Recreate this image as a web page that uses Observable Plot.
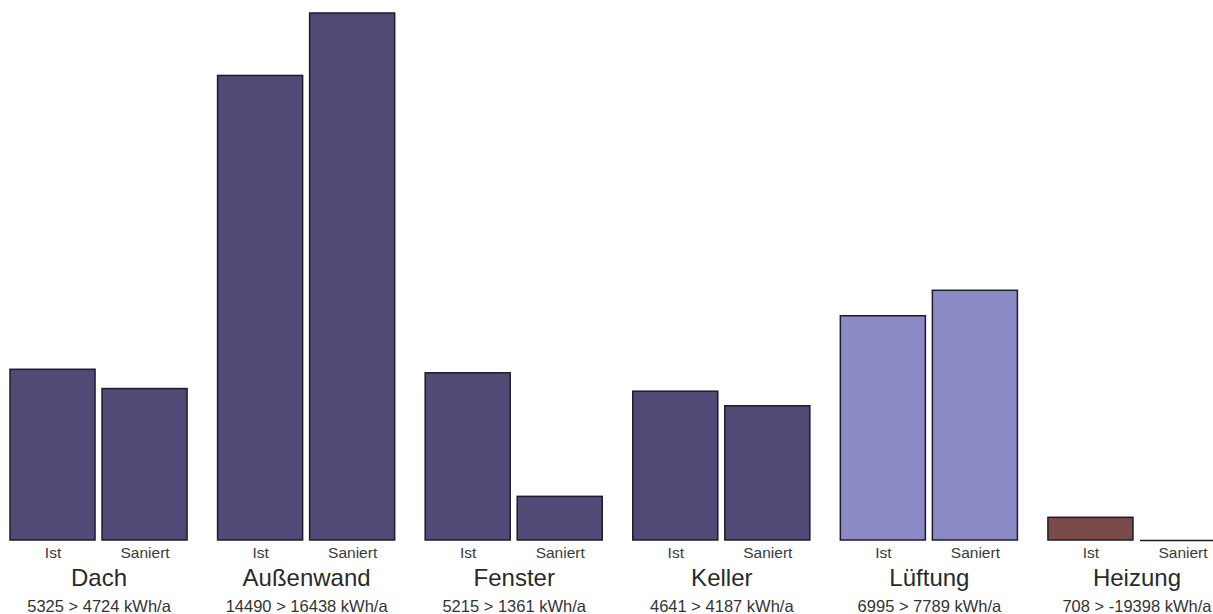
<!DOCTYPE html>
<html>
<head>
<meta charset="utf-8">
<script src="https://cdn.jsdelivr.net/npm/d3@7"></script>
<script src="https://cdn.jsdelivr.net/npm/@observablehq/plot@0.6"></script>
<style>
  html, body { margin: 0; padding: 0; background: #fff; overflow: hidden; }
  #chart svg { display: block; max-width: none !important; }
</style>
</head>
<body>
<div id="chart"></div>
<script>
const groups = ["Dach", "Außenwand", "Fenster", "Keller", "Lüftung", "Heizung"];
const kinds = ["Ist", "Saniert"];
const istValues = [5325, 14490, 5215, 4641, 6995, 708];
const saniertValues = [4724, 16438, 1361, 4187, 7789, -19398];
const groupColors = ["#504a77", "#504a77", "#504a77", "#504a77", "#8b8ac6", "#7a4a4a"];
const unit = "kWh/a";

const bars = [];
groups.forEach((g, i) => {
  bars.push({group: g, kind: kinds[0], value: istValues[i]});
  bars.push({group: g, kind: kinds[1], value: saniertValues[i]});
});
const summary = groups.map((g, i) => ({group: g, label: `${istValues[i]} > ${saniertValues[i]} ${unit}`}));
const ymax = d3.max(bars, d => d.value);

const chart = Plot.plot({
  width: 1225,
  height: 614,
  marginLeft: 10,
  marginRight: 0,
  marginTop: 13,
  marginBottom: 74,
  style: {fontFamily: "'Liberation Sans', Arial, sans-serif", background: "#fff", maxWidth: "none"},
  fx: {domain: groups, paddingInner: 0.147, paddingOuter: 0, axis: null, round: false},
  x: {domain: kinds, paddingInner: 0.076, paddingOuter: 0, axis: null, round: false},
  y: {domain: [0, ymax], nice: false, clamp: true, axis: null},
  color: {domain: groups, range: groupColors},
  marks: [
    Plot.barY(bars.filter(d => d.value > 0), {fx: "group", x: "kind", y: "value", fill: "group", stroke: "#1e1c2a", strokeWidth: 1.5}),
    Plot.tickY(bars.filter(d => d.value <= 0), {fx: "group", x: "kind", y: 0, stroke: "#1e1c2a", strokeWidth: 1.5}),
    Plot.text(bars, {fx: "group", x: "kind", text: "kind", frameAnchor: "bottom", lineAnchor: "bottom", dy: 17, fontSize: 15.5, fill: "#3a3a3a"}),
    Plot.text(summary, {fx: "group", text: "group", frameAnchor: "bottom", lineAnchor: "bottom", dy: 45, fontSize: 24, fill: "#2a2a2a"}),
    Plot.text(summary, {fx: "group", text: "label", frameAnchor: "bottom", lineAnchor: "bottom", dy: 71, fontSize: 16.5, fill: "#333"})
  ]
});
document.getElementById("chart").appendChild(chart);
</script>
</body>
</html>
